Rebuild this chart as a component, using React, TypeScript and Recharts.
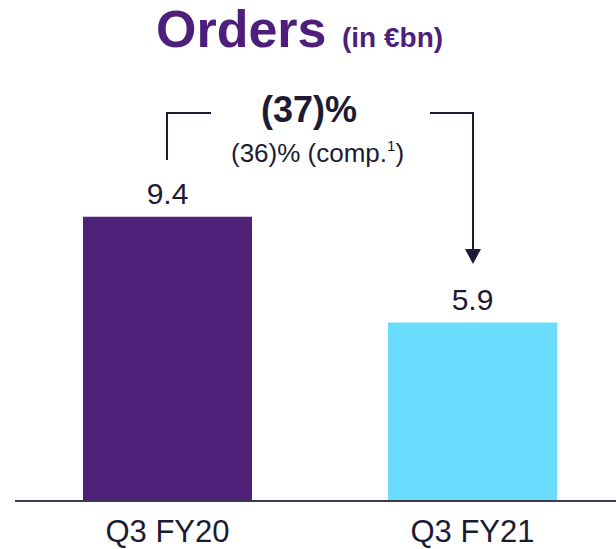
import { BarChart, Bar, XAxis, YAxis, LabelList, Cell, Customized } from 'recharts';

const categories = ['Q3 FY20', 'Q3 FY21'];
const orders = [9.4, 5.9];
const barColors = ['#4e2178', '#6adcfd'];

const data = categories.map((name, i) => ({ name, orders: orders[i] }));

const FONT = '"Liberation Sans", Arial, sans-serif';
const INK = '#1c1b33';

const CategoryTick = (props: any) => {
    const { x, y, payload } = props;
    return (
        <text x={x} y={y} dy={41} textAnchor="middle" fontSize={31} fill={INK} fontFamily={FONT}>
            {payload.value}
        </text>
    );
};

// title and the change bracket above the bars
const Annotations = () => (
    <g fontFamily={FONT}>
        <text x={156} y={47} fontSize={52} fontWeight="bold" fill="#4e1f7a">
            Orders
        </text>
        <text x={342} y={47} fontSize={28} fontWeight="bold" fill="#4e1f7a">
            (in €bn)
        </text>
        <text x={309} y={122} textAnchor="middle" fontSize={36} fontWeight="bold" fill={INK}>
            (37)%
        </text>
        <text x={231} y={162} fontSize={26} fill={INK}>
            (36)% (comp.<tspan fontSize={15} dy={-11}>1</tspan><tspan dy={11}>)</tspan>
        </text>
        <polyline points="167,160 167,113 211,113" fill="none" stroke={INK} strokeWidth={2} />
        <polyline points="430,113 473,113 473,251" fill="none" stroke={INK} strokeWidth={2} />
        <polygon points="465,249 481,249 473,264" fill={INK} />
    </g>
);

export default function App() {
    return (
        <div style={{ position: 'absolute', left: 0, top: 0, width: 616, height: 549, overflow: 'hidden', background: '#fff' }}>
            <BarChart
                width={625}
                height={549}
                data={data}
                margin={{ top: 138, right: 0, left: 15, bottom: 0 }}
                barCategoryGap={0}
            >
                <XAxis
                    dataKey="name"
                    height={48}
                    tickLine={false}
                    tickSize={0}
                    tickMargin={0}
                    axisLine={{ stroke: '#3b3b50', strokeWidth: 2 }}
                    tick={<CategoryTick />}
                    interval={0}
                />
                <YAxis hide domain={[0, 12]} />
                <Bar dataKey="orders" barSize={169} isAnimationActive={false}>
                    {data.map((d, i) => (
                        <Cell key={d.name} fill={barColors[i]} />
                    ))}
                    <LabelList dataKey="orders" position="top" offset={13} fontSize={30} fill={INK} fontFamily={FONT} />
                </Bar>
                <Customized component={Annotations} />
            </BarChart>
        </div>
    );
}
